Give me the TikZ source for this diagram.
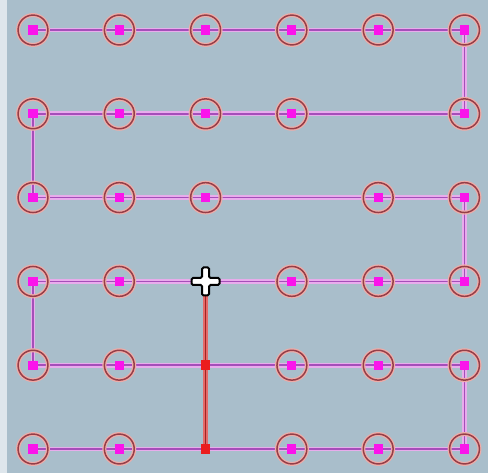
\documentclass[tikz,border=0pt]{standalone}
\usepackage{tikz}
\usetikzlibrary{positioning}
\definecolor{boardblue}{RGB}{169,190,203}
\definecolor{boardedge}{RGB}{222,230,236}
\definecolor{ringred}{RGB}{150,62,72}
\definecolor{ringglow}{RGB}{238,172,168}
\definecolor{viapink}{RGB}{250,20,235}
\definecolor{wirepurple}{RGB}{165,78,185}
\definecolor{wireglow}{RGB}{232,172,236}
\definecolor{trackred}{RGB}{160,35,35}
\definecolor{trackglow}{RGB}{228,105,105}
\definecolor{viared}{RGB}{235,30,30}
\pgfdeclarelayer{board}
\pgfdeclarelayer{wires}
\pgfsetlayers{board,wires,main}
\tikzset{
  pad/.style={
    circle,
    minimum size=17pt,
    inner sep=0pt,
    draw=ringred,
    line width=0.85pt,
    preaction={draw=ringglow, line width=2.3pt},
    path picture={\fill[viapink]
      ([shift={(-2.6pt,-2.6pt)}]path picture bounding box.center) rectangle
      ([shift={(2.6pt,2.6pt)}]path picture bounding box.center);}
  },
  redvia/.style={rectangle, fill=viared, minimum size=5.4pt, inner sep=0pt},
  wire/.style={draw=wirepurple, line width=0.9pt, preaction={draw=wireglow, line width=2.8pt}},
  track/.style={draw=trackred, line width=0.9pt, preaction={draw=trackglow, line width=2.6pt}},
  crosshair/.style={fill=white, draw=black, line width=1.1pt, rounded corners=0.8pt}
}

\begin{document}
\begin{tikzpicture}[x=0.02cm, y=-0.02cm]
    \useasboundingbox (0,0) rectangle (488,473);
    \begin{pgfonlayer}{board}
      \fill[boardblue] (0,0) rectangle (488,473);
      \fill[boardedge] (0,0) rectangle (7,473);
    \end{pgfonlayer}
    % pads of the grid, missing ones left out
    \foreach \r/\cols in {1/{1,2,3,4,5,6}, 2/{1,2,3,4,6}, 3/{1,2,3,5,6},
                          4/{1,2,4,5,6}, 5/{1,2,4,5,6}, 6/{1,2,4,5,6}}
      \foreach \c in \cols
        \node[pad] (n-\r-\c) at ({33+86.3*(\c-1)}, {30+83.8*(\r-1)}) {};
    \coordinate (n-4-3) at ({33+86.3*2}, {30+83.8*3});
    \node[redvia] (n-5-3) at ({33+86.3*2}, {30+83.8*4}) {};
    \node[redvia] (n-6-3) at ({33+86.3*2}, {30+83.8*5}) {};
    \begin{pgfonlayer}{wires}
      \draw[wire] (n-1-1.center) -- (n-1-6.center) -- (n-2-6.center) -- (n-2-1.center)
        -- (n-3-1.center) -- (n-3-6.center) -- (n-4-6.center) -- (n-4-1.center)
        -- (n-5-1.center) -- (n-5-6.center) -- (n-6-6.center) -- (n-6-1.center);
      \draw[track] (n-4-3) -- (n-5-3.center) -- (n-6-3.center);
    \end{pgfonlayer}
    % cursor
    \draw[crosshair] (n-4-3) ++(-3.5,-14) -- ++(7,0) -- ++(0,10.5) -- ++(10.5,0) -- ++(0,7)
      -- ++(-10.5,0) -- ++(0,10.5) -- ++(-7,0) -- ++(0,-10.5) -- ++(-10.5,0) -- ++(0,-7)
      -- ++(10.5,0) -- cycle;
  \end{tikzpicture}
\end{document}
